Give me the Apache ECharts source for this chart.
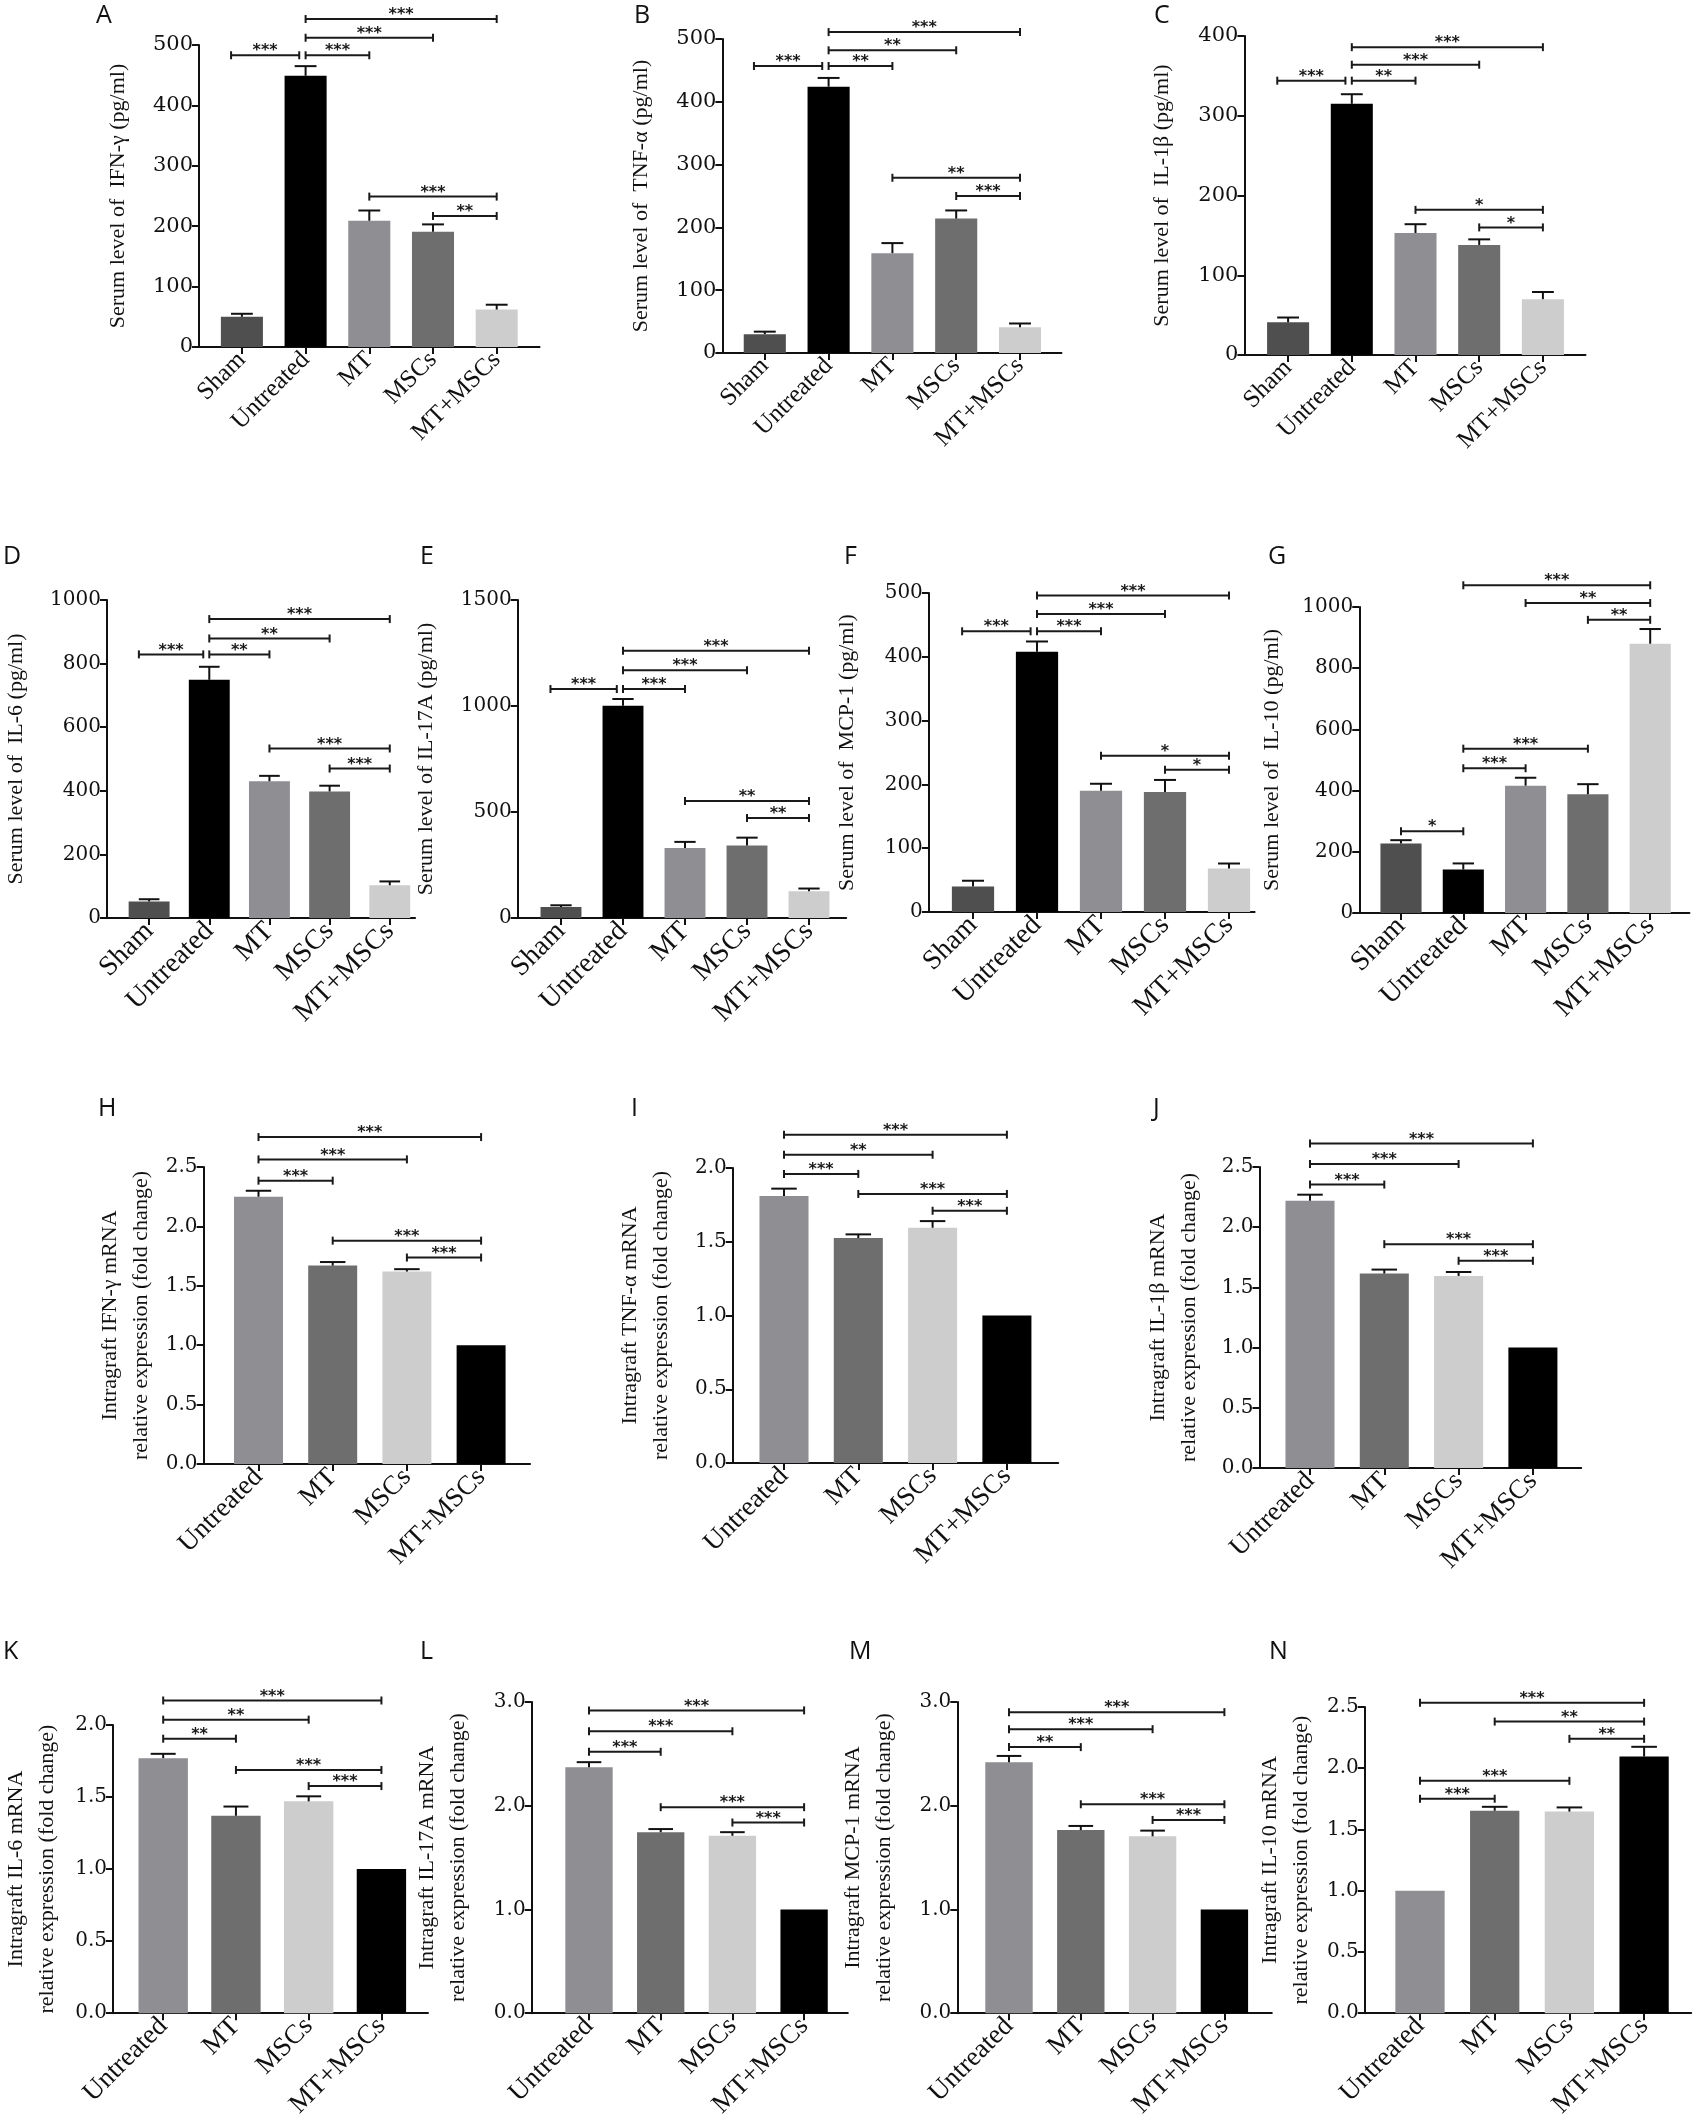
<!DOCTYPE html>
<html>
<head>
<meta charset="utf-8">
<title>Cytokines</title>
<script src="https://cdn.jsdelivr.net/npm/echarts@6/dist/echarts.min.js"></script>
<style>
	html, body { margin: 0; padding: 0; background: #fff; }
	#main { width: 1694px; height: 2121px; }
</style>
</head>
<body>
<div id="main"></div>
<script>
var serumGroups = ['Sham', 'Untreated', 'MT', 'MSCs', 'MT+MSCs'];
var mrnaGroups = ['Untreated', 'MT', 'MSCs', 'MT+MSCs'];

// serum levels (pg/ml): mean and SEM
var ifnSerumMean = [50, 449, 209, 191, 62];
var ifnSerumSem = [5, 16, 17, 12, 8];
var tnfSerumMean = [30, 424, 159, 214, 41];
var tnfSerumSem = [4, 14, 16, 13, 6];
var il1bSerumMean = [41, 315, 153, 138, 70];
var il1bSerumSem = [6, 12, 11, 7, 9];
var il6SerumMean = [52, 749, 430, 398, 103];
var il6SerumSem = [7, 41, 17, 18, 12];
var il17SerumMean = [52, 1001, 330, 342, 126];
var il17SerumSem = [8, 32, 29, 37, 13];
var mcpSerumMean = [40, 408, 190, 188, 68];
var mcpSerumSem = [9, 16, 11, 19, 8];
var il10SerumMean = [227, 142, 416, 388, 880];
var il10SerumSem = [11, 20, 26, 33, 48];

// intragraft mRNA (fold change): mean and SEM
var ifnMrnaMean = [2.25, 1.67, 1.62, 1.0];
var ifnMrnaSem = [0.05, 0.03, 0.02, 0];
var tnfMrnaMean = [1.81, 1.525, 1.595, 1.0];
var tnfMrnaSem = [0.05, 0.025, 0.045, 0];
var il1bMrnaMean = [2.22, 1.615, 1.595, 1.0];
var il1bMrnaSem = [0.05, 0.033, 0.033, 0];
var il6MrnaMean = [1.77, 1.37, 1.47, 1.0];
var il6MrnaSem = [0.03, 0.064, 0.035, 0];
var il17MrnaMean = [2.37, 1.745, 1.71, 1.0];
var il17MrnaSem = [0.05, 0.03, 0.035, 0];
var mcpMrnaMean = [2.42, 1.765, 1.705, 1.0];
var mcpMrnaSem = [0.06, 0.04, 0.055, 0];
var il10MrnaMean = [1.0, 1.653, 1.646, 2.095];
var il10MrnaSem = [0, 0.032, 0.034, 0.08];

// significance brackets: [from group, to group, height, stars]
var ifnSerumSig = [[0, 1, 483, '***'], [1, 2, 483, '***'], [1, 3, 512, '***'], [1, 4, 543, '***'], [2, 4, 249, '***'], [3, 4, 217, '**']];
var tnfSerumSig = [[0, 1, 457, '***'], [1, 2, 457, '**'], [1, 3, 482, '**'], [1, 4, 511, '***'], [2, 4, 279, '**'], [3, 4, 250, '***']];
var il1bSerumSig = [[0, 1, 344, '***'], [1, 2, 344, '**'], [1, 3, 364, '***'], [1, 4, 386, '***'], [2, 4, 182, '*'], [3, 4, 160, '*']];
var il6SerumSig = [[0, 1, 829, '***'], [1, 2, 829, '**'], [1, 3, 879, '**'], [1, 4, 940, '***'], [2, 4, 533, '***'], [3, 4, 470, '***']];
var il17SerumSig = [[0, 1, 1080, '***'], [1, 2, 1080, '***'], [1, 3, 1169, '***'], [1, 4, 1261, '***'], [2, 4, 552, '**'], [3, 4, 472, '**']];
var mcpSerumSig = [[0, 1, 440, '***'], [1, 2, 440, '***'], [1, 3, 467, '***'], [1, 4, 496, '***'], [2, 4, 245, '*'], [3, 4, 223, '*']];
var il10SerumSig = [[0, 1, 267, '*'], [1, 2, 473, '***'], [1, 3, 537, '***'], [3, 4, 958, '**'], [2, 4, 1013, '**'], [1, 4, 1071, '***']];
var ifnMrnaSig = [[0, 1, 2.385, '***'], [0, 2, 2.564, '***'], [0, 3, 2.752, '***'], [1, 3, 1.88, '***'], [2, 3, 1.738, '***']];
var tnfMrnaSig = [[0, 1, 1.96, '***'], [0, 2, 2.09, '**'], [0, 3, 2.226, '***'], [1, 3, 1.824, '***'], [2, 3, 1.71, '***']];
var il1bMrnaSig = [[0, 1, 2.354, '***'], [0, 2, 2.525, '***'], [0, 3, 2.696, '***'], [1, 3, 1.859, '***'], [2, 3, 1.721, '***']];
var il6MrnaSig = [[0, 1, 1.905, '**'], [0, 2, 2.037, '**'], [0, 3, 2.17, '***'], [1, 3, 1.688, '***'], [2, 3, 1.576, '***']];
var il17MrnaSig = [[0, 1, 2.52, '***'], [0, 2, 2.718, '***'], [0, 3, 2.919, '***'], [1, 3, 1.986, '***'], [2, 3, 1.838, '***']];
var mcpMrnaSig = [[0, 1, 2.565, '**'], [0, 2, 2.738, '***'], [0, 3, 2.902, '***'], [1, 3, 2.014, '***'], [2, 3, 1.863, '***']];
var il10MrnaSig = [[0, 1, 1.751, '***'], [0, 2, 1.897, '***'], [2, 3, 2.24, '**'], [1, 3, 2.381, '**'], [0, 3, 2.534, '***']];

// y axis ranges
var axisMax = [500, 500, 400, 1000, 1500, 500, 1000, 2.5, 2.0, 2.5, 2.0, 3.0, 3.0, 2.5];
var axisStep = [100, 100, 100, 200, 500, 100, 200, 0.5, 0.5, 0.5, 0.5, 1.0, 1.0, 0.5];

var serumColors = ['#4f4f4f', '#000000', '#8e8e93', '#6e6e6e', '#cdcdcd'];
var mrnaColors = ['#8e8e93', '#6e6e6e', '#cdcdcd', '#000000'];

var panels = [
	{ tag: 'A', name: 'Serum level of  IFN-\u03b3 (pg/ml)', mean: ifnSerumMean, sem: ifnSerumSem, sig: ifnSerumSig },
	{ tag: 'B', name: 'Serum level of  TNF-\u03b1 (pg/ml)', mean: tnfSerumMean, sem: tnfSerumSem, sig: tnfSerumSig },
	{ tag: 'C', name: 'Serum level of  IL-1\u03b2 (pg/ml)', mean: il1bSerumMean, sem: il1bSerumSem, sig: il1bSerumSig },
	{ tag: 'D', name: 'Serum level of  IL-6 (pg/ml)', mean: il6SerumMean, sem: il6SerumSem, sig: il6SerumSig },
	{ tag: 'E', name: 'Serum level of IL-17A (pg/ml)', mean: il17SerumMean, sem: il17SerumSem, sig: il17SerumSig },
	{ tag: 'F', name: 'Serum level of  MCP-1 (pg/ml)', mean: mcpSerumMean, sem: mcpSerumSem, sig: mcpSerumSig },
	{ tag: 'G', name: 'Serum level of  IL-10 (pg/ml)', mean: il10SerumMean, sem: il10SerumSem, sig: il10SerumSig },
	{ tag: 'H', name: 'Intragraft IFN-\u03b3 mRNA\nrelative expression (fold change)', mean: ifnMrnaMean, sem: ifnMrnaSem, sig: ifnMrnaSig },
	{ tag: 'I', name: 'Intragraft TNF-\u03b1 mRNA\nrelative expression (fold change)', mean: tnfMrnaMean, sem: tnfMrnaSem, sig: tnfMrnaSig },
	{ tag: 'J', name: 'Intragraft IL-1\u03b2 mRNA\nrelative expression (fold change)', mean: il1bMrnaMean, sem: il1bMrnaSem, sig: il1bMrnaSig },
	{ tag: 'K', name: 'Intragraft IL-6 mRNA\nrelative expression (fold change)', mean: il6MrnaMean, sem: il6MrnaSem, sig: il6MrnaSig },
	{ tag: 'L', name: 'Intragraft IL-17A mRNA\nrelative expression (fold change)', mean: il17MrnaMean, sem: il17MrnaSem, sig: il17MrnaSig },
	{ tag: 'M', name: 'Intragraft MCP-1 mRNA\nrelative expression (fold change)', mean: mcpMrnaMean, sem: mcpMrnaSem, sig: mcpMrnaSig },
	{ tag: 'N', name: 'Intragraft IL-10 mRNA\nrelative expression (fold change)', mean: il10MrnaMean, sem: il10MrnaSem, sig: il10MrnaSig }
];

// page layout in px: first bar centre, bar spacing, x range in group units,
// plot top / height, y-name gap, panel letter position, row font sizes
var layout = [
	{ c0: 241.9, s: 63.7, min: -0.673, max: 4.673, top: 45, h: 302, gap: 65, lx: 96, ly: 3, row: 0 },
	{ c0: 764.8, s: 63.8, min: -0.665, max: 4.65, top: 39, h: 314, gap: 66, lx: 634, ly: 3, row: 0 },
	{ c0: 1288.1, s: 63.7, min: -0.686, max: 4.669, top: 36, h: 319, gap: 67, lx: 1154, ly: 3, row: 0 },
	{ c0: 141, s: 62, min: -0.70, max: 4.42, top: 600, h: 318, gap: 75, lx: 3, ly: 544, row: 1 },
	{ c0: 561, s: 62, min: -0.70, max: 4.6, top: 600, h: 318, gap: 76, lx: 420, ly: 544, row: 1 },
	{ c0: 973, s: 64, min: -0.69, max: 4.4, top: 593, h: 319, gap: 66, lx: 844, ly: 544, row: 1 },
	{ c0: 1401, s: 62.3, min: -0.67, max: 4.63, top: 607, h: 306, gap: 72, lx: 1268, ly: 544, row: 1 },
	{ c0: 258.5, s: 74.2, min: -0.74, max: 3.66, top: 1167, h: 297, gap: 47, lx: 98, ly: 1096, row: 2 },
	{ c0: 784, s: 74.3, min: -0.69, max: 3.69, top: 1168, h: 295, gap: 56, lx: 631, ly: 1096, row: 2 },
	{ c0: 1310, s: 74.3, min: -0.68, max: 3.65, top: 1167, h: 301, gap: 55, lx: 1153, ly: 1096, row: 2 },
	{ c0: 155.7, s: 74.8, min: -0.69, max: 3.64, top: 1725, h: 302, gap: 50, lx: 3, ly: 1639, row: 2 },
	{ c0: 589, s: 71.7, min: -0.80, max: 3.61, top: 1702, h: 319, gap: 58, lx: 420, ly: 1639, row: 2 },
	{ c0: 1009, s: 71.8, min: -0.72, max: 3.66, top: 1702, h: 318, gap: 58, lx: 849, ly: 1639, row: 2 },
	{ c0: 1420, s: 74.7, min: -0.74, max: 3.63, top: 1707, h: 315, gap: 48, lx: 1269, ly: 1639, row: 2 }
];
var rowFonts = [
	{ tick: 21, cat: 25, name: 22, star: 16 },
	{ tick: 20, cat: 28, name: 22, star: 16 },
	{ tick: 20, cat: 27, name: 22, star: 16 }
];

// the source figure is stretched sideways, a wide serif reads closer for the digits
var serif = 'Liberation Serif';
var wideSerif = 'DejaVu Serif';
var ink = '#111';

function buildOption() {
	var option = {
		animation: false,
		backgroundColor: '#fff',
		title: [],
		grid: [],
		xAxis: [],
		yAxis: [],
		series: []
	};

	panels.forEach(function(p, k) {
		var L = layout[k];
		var f = rowFonts[L.row];
		var cats = p.mean.length == 5 ? serumGroups : mrnaGroups;
		var colors = p.mean.length == 5 ? serumColors : mrnaColors;
		var idx = cats.map(function(c, i) { return i; });
		var yMax = axisMax[k];
		var barW = L.s * 0.66;
		var decimals = yMax < 10 ? 1 : 0;

		option.title.push({
			text: p.tag,
			left: L.lx,
			top: L.ly,
			padding: 0,
			textStyle: { fontFamily: 'Open Sans', fontWeight: 'normal', fontSize: 25, color: ink }
		});

		option.grid.push({
			left: L.c0 + L.min * L.s,
			top: L.top,
			width: (L.max - L.min) * L.s,
			height: L.h
		});

		option.xAxis.push({
			gridIndex: k,
			type: 'value',
			min: L.min,
			max: L.max,
			axisLine: { show: true, onZero: false, lineStyle: { color: ink, width: 2 } },
			axisTick: { show: true, customValues: idx, length: 7, lineStyle: { color: ink, width: 2 } },
			axisLabel: {
				customValues: idx,
				formatter: function(v) { return cats[Math.round(v)]; },
				rotate: 45,
				margin: 9,
				fontFamily: serif,
				fontSize: f.cat,
				color: ink
			},
			splitLine: { show: false }
		});

		option.yAxis.push({
			gridIndex: k,
			type: 'value',
			min: 0,
			max: yMax,
			interval: axisStep[k],
			axisLine: { show: true, onZero: false, lineStyle: { color: ink, width: 2 } },
			axisTick: { show: true, length: 7, lineStyle: { color: ink, width: 2 } },
			axisLabel: {
				formatter: function(v) { return v.toFixed(decimals); },
				margin: 6,
				fontFamily: wideSerif,
				fontSize: f.tick,
				color: ink
			},
			splitLine: { show: false },
			name: p.name,
			nameLocation: 'middle',
			nameRotate: 90,
			nameGap: L.gap,
			nameTextStyle: { fontFamily: serif, fontSize: f.name, lineHeight: 31, color: ink }
		});

		option.series.push({
			type: 'bar',
			xAxisIndex: k,
			yAxisIndex: k,
			barWidth: barW,
			silent: true,
			data: p.mean.map(function(v, i) {
				return { value: [i, v], itemStyle: { color: colors[i] } };
			})
		});

		// error bars (mean + SEM, upper whisker only)
		option.series.push({
			type: 'custom',
			xAxisIndex: k,
			yAxisIndex: k,
			clip: false,
			silent: true,
			z: 4,
			encode: { x: 0, y: [1, 2] },
			data: p.mean.map(function(v, i) { return [i, v, v + p.sem[i]]; }),
			renderItem: function(params, api) {
				if(api.value(2) <= api.value(1)) return;
				var a = api.coord([api.value(0), api.value(1)]);
				var b = api.coord([api.value(0), api.value(2)]);
				var hw = api.size([1, 0])[0] * 0.66 * 0.26;
				var st = { stroke: ink, lineWidth: 2 };
				return {
					type: 'group',
					children: [
						{ type: 'line', shape: { x1: a[0], y1: a[1], x2: b[0], y2: b[1] }, style: st },
						{ type: 'line', shape: { x1: b[0] - hw, y1: b[1], x2: b[0] + hw, y2: b[1] }, style: st }
					]
				};
			}
		});

		// significance brackets
		option.series.push({
			type: 'custom',
			xAxisIndex: k,
			yAxisIndex: k,
			clip: false,
			silent: true,
			z: 5,
			encode: { x: [0, 1], y: 2 },
			data: p.sig.map(function(b) { return [b[0], b[1], b[2]]; }),
			renderItem: function(params, api) {
				var b = p.sig[params.dataIndex];
				var unit = api.size([1, 0])[0];
				// a bracket that meets another one at the same height steps back a little
				var meets = p.sig.some(function(o) {
					return o !== b && o[0] === b[1] && Math.abs(o[2] - b[2]) < yMax * 0.03;
				});
				var p1 = api.coord([b[0], b[2]]);
				var p2 = api.coord([b[1], b[2]]);
				var x1 = p1[0], x2 = p2[0], y = p1[1];
				if(meets) {
					x1 -= unit * 0.17;
					x2 -= unit * 0.1;
				}
				var st = { stroke: '#1a1a1a', lineWidth: 2 };
				return {
					type: 'group',
					children: [
						{ type: 'line', shape: { x1: x1, y1: y, x2: x2, y2: y }, style: st },
						{ type: 'line', shape: { x1: x1, y1: y - 4, x2: x1, y2: y + 4 }, style: st },
						{ type: 'line', shape: { x1: x2, y1: y - 4, x2: x2, y2: y + 4 }, style: st },
						{
							type: 'text',
							style: {
								text: b[3],
								x: (x1 + x2) / 2,
								y: y - 4,
								align: 'center',
								verticalAlign: 'middle',
								fontFamily: 'DejaVu Sans',
								fontWeight: 'bold',
								fontSize: f.star,
								fill: '#1a1a1a'
							}
						}
					]
				};
			}
		});
	});

	return option;
}

var chart = echarts.init(document.getElementById('main'));
chart.setOption(buildOption());
</script>
</body>
</html>
